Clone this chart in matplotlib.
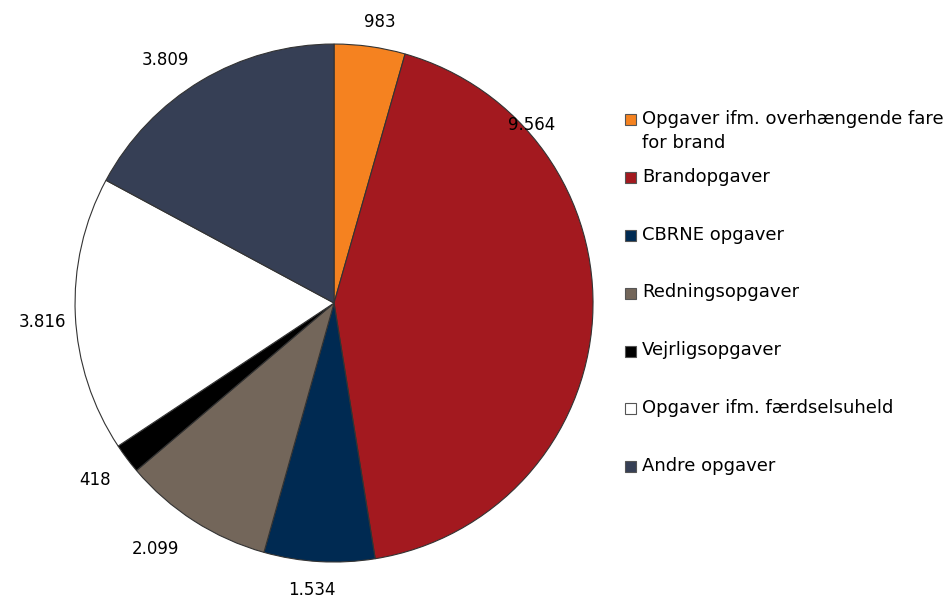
import matplotlib.pyplot as plt
from matplotlib.patches import Rectangle

categories = [
    "Opgaver ifm. overhængende fare\nfor brand",
    "Brandopgaver",
    "CBRNE opgaver",
    "Redningsopgaver",
    "Vejrligsopgaver",
    "Opgaver ifm. færdselsuheld",
    "Andre opgaver",
]
values = [983, 9564, 1534, 2099, 418, 3816, 3809]
colors = ["#F58220", "#A3191F", "#002A52", "#73665A", "#000000", "#FFFFFF", "#363F55"]

# where each value label sits, in pie radii from the centre
label_pos = [(0.178, 1.085), (0.764, 0.687), (-0.085, -1.108), (-0.691, -0.950),
             (-0.923, -0.683), (-1.127, -0.073), (-0.652, 0.938)]

plt.rcParams["font.family"] = "DejaVu Sans"

fig = plt.figure(figsize=(9.51, 6), dpi=100)
ax = fig.add_axes([0.0789, 0.0633, 0.5447, 0.8633])

labels = [f"{v:,}".replace(",", ".") for v in values]
wedges, texts = ax.pie(values, colors=colors, startangle=90, counterclock=False,
                       labels=labels,
                       wedgeprops=dict(edgecolor="#333333", linewidth=0.8),
                       textprops=dict(fontsize=12, color="black"))
for t, pos in zip(texts, label_pos):
    t.set_position(pos)
    t.set_ha("center")
    t.set_va("center")

ax.set_xlim(-1, 1)
ax.set_ylim(-1, 1)
ax.set_aspect("equal")

# legend drawn by hand so the square lines up with the first text line
y0 = 1 - 120 / 600
step = 57.8 / 600
for i, (lab, col) in enumerate(zip(categories, colors)):
    y = y0 - i * step
    fig.patches.append(Rectangle((625 / 951, y - 5.5 / 600), 11 / 951, 11 / 600,
                                 transform=fig.transFigure, facecolor=col,
                                 edgecolor="#555555", linewidth=0.8))
    fig.text(642 / 951, y + 10 / 600, lab, fontsize=13, va="top", ha="left",
             linespacing=1.4)

fig.savefig("out.png", dpi=100)
